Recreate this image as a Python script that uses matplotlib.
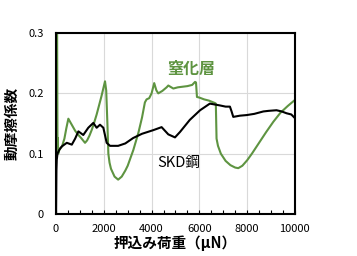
import matplotlib
matplotlib.use('Agg')
import matplotlib.pyplot as plt
from matplotlib.ticker import MultipleLocator

plt.rcParams['font.family'] = ['Noto Sans CJK JP', 'DejaVu Sans']

# nitrided layer (green)
load_nitride = [30, 45, 60, 75, 90, 150, 250, 350, 430, 515, 600, 700, 800, 935,
                1050, 1213, 1300, 1400, 1500, 1600, 1700, 1800, 1900, 1960, 2050,
                2100, 2150, 2190, 2240, 2300, 2450, 2600, 2750, 2900, 3000, 3235,
                3450, 3600, 3720, 3790, 3900, 4000, 4110, 4200, 4280, 4450, 4630,
                4700, 4910, 5100, 5300, 5500, 5700, 5820, 5860, 5900, 6000, 6200,
                6400, 6650, 6690, 6720, 6780, 6900, 7100, 7300, 7500, 7630, 7800,
                8000, 8200, 8500, 8800, 9100, 9400, 9700, 10000]
mu_nitride = [0.3, 0.3, 0.114, 0.126, 0.1, 0.108, 0.112, 0.125, 0.142, 0.158,
              0.152, 0.145, 0.138, 0.131, 0.126, 0.118, 0.122, 0.13, 0.14, 0.152,
              0.165, 0.18, 0.195, 0.205, 0.22, 0.205, 0.15, 0.1, 0.085, 0.075,
              0.062, 0.057, 0.062, 0.072, 0.08, 0.106, 0.135, 0.16, 0.185, 0.19,
              0.192, 0.2, 0.217, 0.205, 0.2, 0.204, 0.21, 0.213, 0.208, 0.21,
              0.211, 0.212, 0.214, 0.219, 0.218, 0.194, 0.193, 0.19, 0.188, 0.184,
              0.183, 0.125, 0.113, 0.1, 0.088, 0.081, 0.077, 0.076, 0.08, 0.089,
              0.1, 0.118, 0.136, 0.153, 0.168, 0.179, 0.189]

# SKD steel (black)
load_skd = [0, 15, 30, 60, 130, 240, 450, 660, 800, 935, 1140, 1350, 1560, 1700,
            1840, 1980, 2120, 2260, 2600, 2900, 3230, 3600, 4070, 4420, 4700, 4980,
            5190, 5600, 6030, 6440, 6860, 7100, 7280, 7350, 7420, 7700, 7980, 8300,
            8680, 8900, 9230, 9450, 9650, 9850, 10000]
mu_skd = [0.0, 0.072, 0.09, 0.1, 0.106, 0.112, 0.118, 0.115, 0.125, 0.137, 0.131,
          0.143, 0.151, 0.143, 0.148, 0.143, 0.118, 0.113, 0.113, 0.117, 0.126,
          0.133, 0.139, 0.144, 0.132, 0.127, 0.136, 0.156, 0.172, 0.183, 0.18,
          0.178, 0.178, 0.17, 0.161, 0.163, 0.164, 0.166, 0.17, 0.171, 0.172,
          0.17, 0.167, 0.165, 0.159]

green = '#5e9441'

fig = plt.figure(figsize=(3.57, 2.56), dpi=100)
ax = fig.add_axes([0.157, 0.164, 0.669, 0.707])

ax.plot(load_nitride, mu_nitride, color=green, lw=1.5)
ax.plot(load_skd, mu_skd, color='black', lw=1.5)

ax.set_xlim(0, 10000)
ax.set_ylim(0, 0.3)
ax.set_xticks([0, 2000, 4000, 6000, 8000, 10000])
ax.set_yticks([0, 0.1, 0.2, 0.3])
ax.set_yticklabels(['0', '0.1', '0.2', '0.3'])
ax.xaxis.set_minor_locator(MultipleLocator(500))
ax.grid(True, color='#d9d9d9', lw=0.8)
ax.set_axisbelow(True)
ax.tick_params(axis='x', which='both', direction='in', length=3, width=0.8,
               labelsize=8, pad=7)
ax.tick_params(axis='y', length=0, labelsize=8, pad=9)
for s in ax.spines.values():
    s.set_linewidth(1.5)
    s.set_color('black')

ax.set_xlabel('押込み荷重（μN）', fontsize=10.5, fontweight='bold', labelpad=1)
ax.set_ylabel('動摩擦係数', fontsize=10.5, fontweight='bold', labelpad=6)

ax.text(5650, 0.24, '窒化層', color=green, fontsize=11.5, fontweight='bold',
        ha='center', va='center')
ax.text(5150, 0.085, 'SKD鋼', color='black', fontsize=10.5,
        ha='center', va='center')

fig.savefig('out.png', dpi=100)
